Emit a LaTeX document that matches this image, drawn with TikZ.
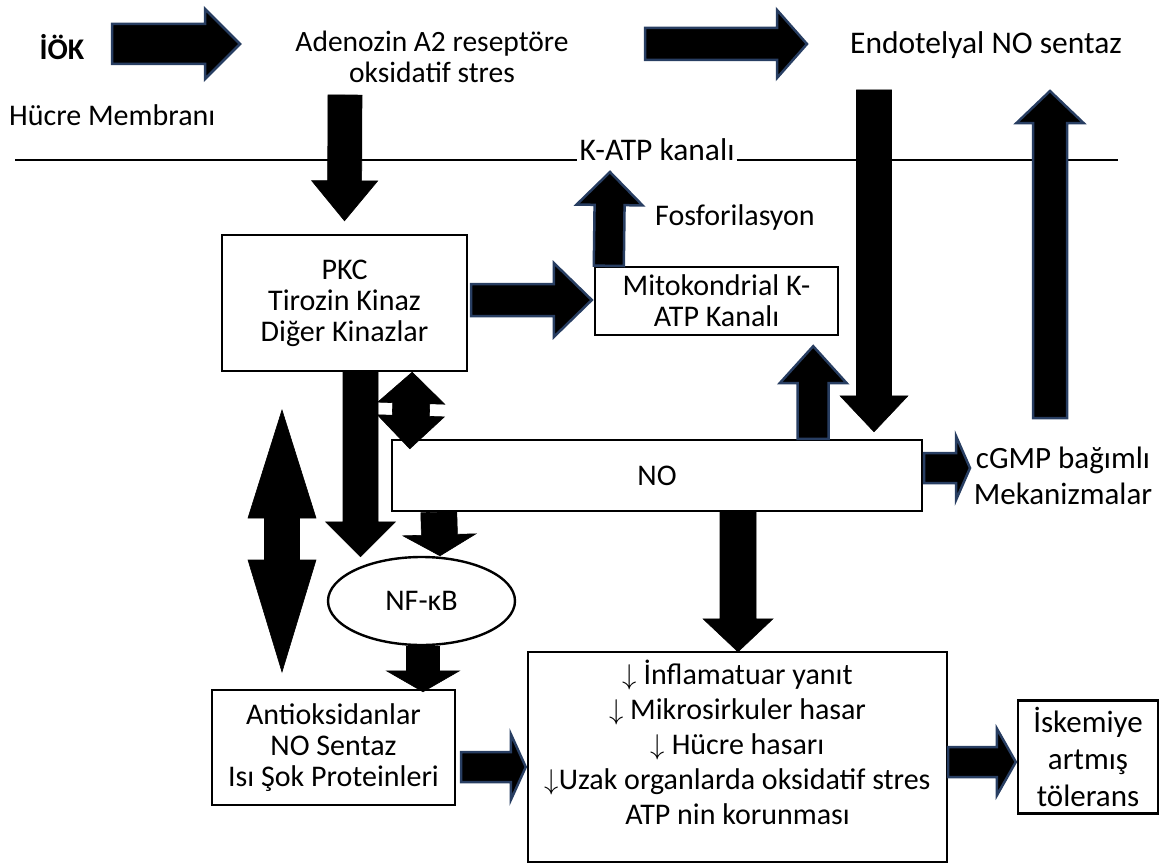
\documentclass[tikz,border=0pt]{standalone}
\usepackage{fontspec}
\setmainfont{Carlito}
\usepackage{graphicx}
\usepackage{tikz}
\usetikzlibrary{calc,shapes.geometric,positioning}
\definecolor{arrowedge}{RGB}{40,62,98}
\setlength{\lineskiplimit}{-100pt}
\newcommand{\dn}{\scalebox{1.15}{$\downarrow$}}

% block arrow: [style]{start}{end}{shaft half width}{head half width}{head length}
\newcommand{\blockarr}[6][arrow black]{%
  \coordinate (ba-s) at (#2);
  \coordinate (ba-e) at (#3);
  \coordinate (ba-h) at ($(ba-e)!#6!(ba-s)$);
  \draw[#1] ($(ba-s)!#4!90:(ba-e)$) -- ($(ba-h)!#4!-90:(ba-s)$) -- ($(ba-h)!#5!-90:(ba-s)$)
    -- (ba-e) -- ($(ba-h)!#5!90:(ba-s)$) -- ($(ba-h)!#4!90:(ba-s)$) -- ($(ba-s)!#4!-90:(ba-e)$) -- cycle;
}
% double block arrow: [style]{one end}{other end}{shaft half width}{head half width}{head length 1}{head length 2}
\newcommand{\dblarr}[7][arrow black]{%
  \coordinate (da-s) at (#2);
  \coordinate (da-e) at (#3);
  \coordinate (da-hs) at ($(da-s)!#6!(da-e)$);
  \coordinate (da-he) at ($(da-e)!#7!(da-s)$);
  \draw[#1] (da-s) -- ($(da-hs)!#5!90:(da-e)$) -- ($(da-hs)!#4!90:(da-e)$) -- ($(da-he)!#4!-90:(da-s)$)
    -- ($(da-he)!#5!-90:(da-s)$) -- (da-e) -- ($(da-he)!#5!90:(da-s)$) -- ($(da-he)!#4!90:(da-s)$)
    -- ($(da-hs)!#4!-90:(da-e)$) -- ($(da-hs)!#5!-90:(da-e)$) -- cycle;
}

\begin{document}
\begin{tikzpicture}
      [x=1pt, y=-1pt,
      inner sep=2pt,
      font=\fontsize{30}{31}\selectfont,
      box style/.style={draw, rectangle, line width=2.4pt, align=center, inner sep=0pt},
      text style/.style={align=center},
      membrane/.style={draw, line width=1.8pt},
      arrow blue/.style={fill=black, draw=arrowedge, line width=2.5pt, line join=miter},
      arrow black/.style={fill=black, draw=black, line width=0.6pt, line join=miter}
      ]
    \useasboundingbox (0,0) rectangle (1168,867);

    \node[text style, font=\fontsize{30}{31}\selectfont\bfseries] (iok) at (62,47) {İÖK};
    \node[text style, font=\fontsize{29.5}{31}\selectfont] (adeno) at (432,57)
        {Adenozin A2 reseptöre\\oksidatif stres};
    \node[text style, font=\fontsize{31.5}{32}\selectfont] (endo) at (986,45) {Endotelyal NO sentaz};
    \node[text style, anchor=west] (membr) at (7,115) {Hücre Membranı};
    \node[text style, anchor=base, font=\fontsize{31.5}{32}\selectfont] (katp) at (657,160) {K-ATP kanalı};
    \node[text style] (fosf) at (735,218) {Fosforilasyon};
    \node[text style, font=\fontsize{31}{36}\selectfont] (cgmp) at (1063,476) {cGMP bağımlı\\Mekanizmalar};

    \coordinate (memL) at (15,160);
    \coordinate (memR) at (1118,160);
    \draw[membrane] (memL) -- (katp.base west);
    \draw[membrane] (katp.base east) -- (memR);

    \node[box style, minimum width=245pt, minimum height=136pt] (pkc) at (344.5,303)
        {PKC\\Tirozin Kinaz\\Diğer Kinazlar};
    \node[box style, minimum width=243pt, minimum height=68pt] (mito) at (716.5,301)
        {Mitokondrial K-\\ATP Kanalı};
    \node[box style, minimum width=530pt, minimum height=71pt] (nobox) at (657,475.5) {NO};
    \node[draw, ellipse, line width=2.4pt, minimum width=187pt, minimum height=88pt, inner sep=0pt] (nfkb)
        at (421.5,601) {NF-κB};
    \node[box style, minimum width=243pt, minimum height=115pt] (antiox) at (333.5,747.5)
        {Antioksidanlar\\NO Sentaz\\Isı Şok Proteinleri};
    \node[box style, minimum width=419pt, minimum height=210pt, font=\fontsize{30}{35}\selectfont]
        (effect) at (737.5,757)
        {\dn\ İnflamatuar yanıt\\\dn\ Mikrosirkuler hasar\\\dn\ Hücre hasarı\\
         \dn Uzak organlarda oksidatif stres\\ATP nin korunması\\[-5pt]\mbox{}};
    \node[box style, minimum width=140pt, minimum height=113pt, font=\fontsize{31}{37}\selectfont] (isk)
        at (1088,757) {İskemiye\\artmış\\tölerans};

    \coordinate (iok-out) at (112,44);
    \coordinate (adeno-in) at (240,44);
    \coordinate (adeno-out) at (645,44);
    \coordinate (endo-in) at (807,44);
    \coordinate (adeno-down) at (345,95);
    \coordinate (katp-in) at (610,172);
    \coordinate (endo-down) at (874,90);
    \coordinate (endo-up) at (1050,91);
    \coordinate (cgmp-up) at (1050,418);
    \coordinate (cgmp-in) at (970,468);
    \coordinate (big-top) at (282,410);
    \coordinate (big-bot) at (282,672);

    \blockarr[arrow blue]{iok-out}{adeno-in}{20pt}{35pt}{35pt}
    \blockarr[arrow blue]{adeno-out}{endo-in}{16pt}{34pt}{30pt}
    \blockarr{adeno-down}{$(pkc.north)+(0,-13)$}{17pt}{33pt}{40pt}
    \blockarr[arrow blue]{$(pkc.east)+(3,-3)$}{$(mito.west)+(-2,-1)$}{16pt}{37pt}{38pt}
    \blockarr[arrow blue]{$(mito.north west)+(15,0)$}{katp-in}{15pt}{33pt}{33pt}
    \blockarr{endo-down}{$(endo-down |- nobox.north)+(0,-7)$}{17.5pt}{34pt}{36pt}
    \blockarr[arrow blue]{cgmp-up}{endo-up}{17pt}{33.5pt}{32pt}
    \blockarr[arrow blue]{$(nobox.north east)+(-110,0)$}{$(mito.south east)+(-26,10)$}{15.5pt}{33.5pt}{37pt}
    \blockarr[arrow blue]{$(nobox.east)+(1,-7.5)$}{cgmp-in}{15pt}{32pt}{14pt}
    \blockarr{$(pkc.south)+(16,0)$}{$(nfkb.north)+(-61,1)$}{17.5pt}{35pt}{35pt}
    \dblarr{$(pkc.south east)+(-56,0)$}{$(nobox.north west)+(19,10)$}{18.5pt}{33.5pt}{31pt}{33pt}
    \dblarr{big-top}{big-bot}{17.5pt}{34pt}{108pt}{112pt}
    \blockarr{$(nobox.south west)+(48,0)$}{$(nfkb.north)+(18.5,0)$}{18pt}{36.5pt}{21pt}
    \blockarr{$(nfkb.south)+(1.5,0)$}{$(antiox.north)+(89.5,3)$}{16.5pt}{36.5pt}{21pt}
    \blockarr[arrow blue]{$(antiox.east)+(5,19.5)$}{$(effect.west)+(-1,10)$}{15pt}{33pt}{15pt}
    \blockarr{$(nobox.south)+(81,0)$}{$(effect.north)+(0.5,1)$}{18pt}{35pt}{33pt}
    \blockarr[arrow blue]{$(effect.east)+(0,5)$}{$(isk.west)+(-1,5)$}{15pt}{33.5pt}{19pt}
\end{tikzpicture}
\end{document}
